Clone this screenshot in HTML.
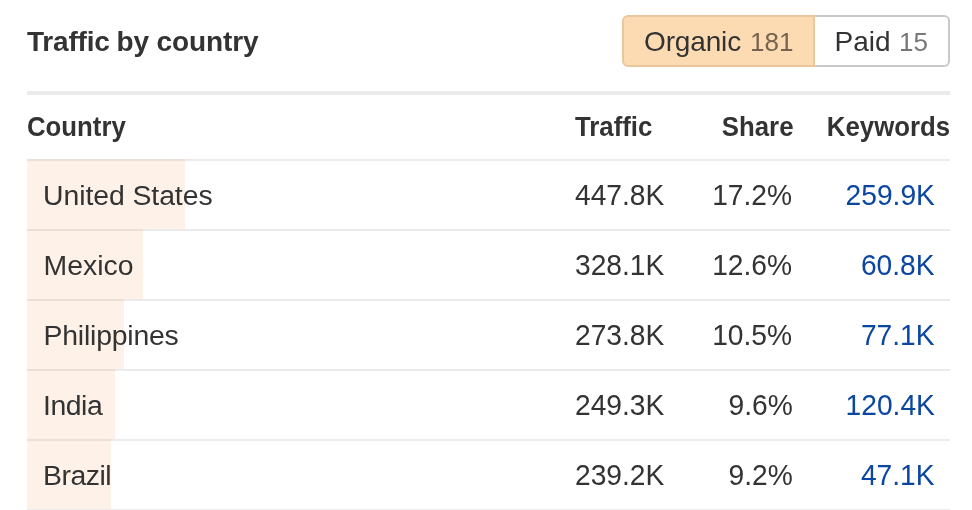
<!DOCTYPE html>
<html>
<head>
<meta charset="utf-8">
<style>
html,body{margin:0;padding:0;background:#fff;}
body{width:972px;height:510px;overflow:hidden;position:relative;will-change:transform;font-family:"Liberation Sans",sans-serif;color:#333;}
.title{position:absolute;left:27px;top:26px;font-size:28px;font-weight:bold;line-height:32px;word-spacing:-1.5px;color:#333;white-space:nowrap;}
.btn{position:absolute;top:15px;height:52px;box-sizing:border-box;font-size:28px;line-height:32px;white-space:nowrap;color:#333;}
.btn i{font-style:normal;position:absolute;top:9px;transform-origin:0 0;}
.b1{left:622px;width:193px;background:#fddbb2;border:2px solid #ecc79e;border-radius:6px 0 0 6px;}
.b2{left:815px;width:135px;background:#fff;border:2px solid #c9c9cb;border-left:none;border-radius:0 6px 6px 0;}
.topline{position:absolute;left:27px;top:91px;width:923px;height:4px;background:#ebebec;}
.hdr{position:absolute;top:111px;font-size:26.8px;font-weight:bold;line-height:32px;white-space:nowrap;color:#333;transform:scaleX(.962);transform-origin:0 0;}
.hr{transform-origin:100% 0;}
.row{position:absolute;left:27px;width:923px;height:70px;border-top:2px solid #ebebed;box-sizing:border-box;}
.bar{position:absolute;left:0;top:-2px;height:68px;background:#fef1e8;border-top:2px solid #ecdfd8;}
.c{position:absolute;top:17.5px;font-size:28.4px;line-height:32px;white-space:nowrap;color:#333;}
.num{font-size:29.3px;top:18.2px;transform:scaleX(.962);transform-origin:0 0;}
.numr{transform-origin:100% 0;}
.kw{color:#0b46a0;}
</style>
</head>
<body>
<div class="title"><span style="letter-spacing:-0.2px">Traffic</span><span style="margin-left:0.5px"> by</span><span style="margin-left:1.3px;letter-spacing:-0.12px"> country</span></div>
<div class="btn b1"><i style="left:20px;letter-spacing:-0.15px">Organic</i><i style="left:126px;font-size:26px;color:#76644f">181</i></div>
<div class="btn b2"><i style="left:19.5px">Paid</i><i style="left:84px;font-size:26px;color:#777">15</i></div>
<div class="topline"></div>
<div class="hdr" style="left:27px">Country</div>
<div class="hdr" style="left:575px">Traffic</div>
<div class="hdr hr" style="right:178.7px">Share</div>
<div class="hdr hr" style="right:22px">Keywords</div>

<div class="row" style="top:159px"><div class="bar" style="width:158px"></div><div class="c n" style="left:16px;letter-spacing:-0.07px">United States</div><div class="c num" style="left:548px">447.8K</div><div class="c num numr" style="right:157.5px">17.2%</div><div class="c num numr kw" style="right:15.5px">259.9K</div></div>
<div class="row" style="top:229px"><div class="bar" style="width:116px"></div><div class="c n" style="left:16.5px;letter-spacing:0px">Mexico</div><div class="c num" style="left:548px">328.1K</div><div class="c num numr" style="right:157.5px">12.6%</div><div class="c num numr kw" style="right:15.5px">60.8K</div></div>
<div class="row" style="top:299px"><div class="bar" style="width:97px"></div><div class="c n" style="left:16.5px;letter-spacing:-0.2px">Philippines</div><div class="c num" style="left:548px">273.8K</div><div class="c num numr" style="right:157.5px">10.5%</div><div class="c num numr kw" style="right:15.5px">77.1K</div></div>
<div class="row" style="top:369px"><div class="bar" style="width:88px"></div><div class="c n" style="left:16px;letter-spacing:-0.45px">India</div><div class="c num" style="left:548px">249.3K</div><div class="c num numr" style="right:157.5px">9.6%</div><div class="c num numr kw" style="right:15.5px">120.4K</div></div>
<div class="row" style="top:439px"><div class="bar" style="width:84px"></div><div class="c n" style="left:16px;letter-spacing:-0.48px">Brazil</div><div class="c num" style="left:548px">239.2K</div><div class="c num numr" style="right:157.5px">9.2%</div><div class="c num numr kw" style="right:15.5px">47.1K</div></div>
<div class="row" style="top:509px;height:2px"></div>
</body>
</html>
